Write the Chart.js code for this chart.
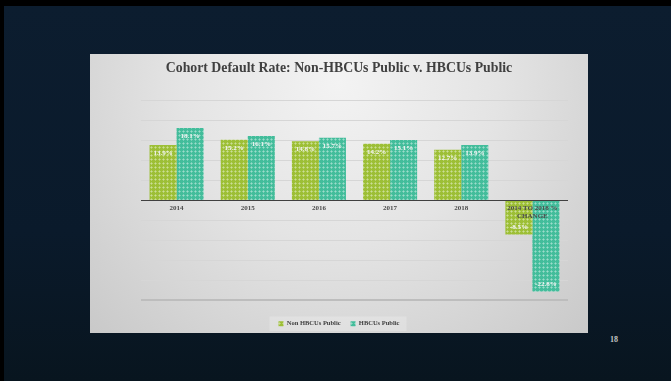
<!DOCTYPE html>
<html>
<head>
<meta charset="utf-8">
<script src="https://cdn.jsdelivr.net/npm/chart.js@4.4.1/dist/chart.umd.min.js"></script>
<style>
    html, body { margin: 0; padding: 0; }
    body { width: 671px; height: 381px; background: #000; position: relative; overflow: hidden; }
    #slide {
        position: absolute; left: 4px; top: 6px; width: 667px; height: 375px;
        background: linear-gradient(180deg, #0c1d2f 0%, #0a1a2b 60%, #08151f 100%);
    }
    #panel {
        position: absolute; left: 90px; top: 54px; width: 498px; height: 279px;
        background: radial-gradient(ellipse at 50% 10%, #f3f3f3 0%, #e4e4e4 45%, #c9c9c9 100%);
    }
    #cdrChart { position: absolute; left: 90px; top: 54px; }
    #pageNum {
        position: absolute; left: 610px; top: 335px;
        font: bold 8px "Liberation Serif", serif; color: #c4c4c4;
    }
</style>
</head>
<body>
<div id="slide"></div>
<div id="panel"></div>
<canvas id="cdrChart" width="498" height="283"></canvas>
<div id="pageNum">18</div>
<script>
const categories = ['2014', '2015', '2016', '2017', '2018', ['2014 TO 2018 %', 'CHANGE']];
const nonHbcuPublic = [13.9, 15.2, 14.8, 14.2, 12.7, -8.5];
const hbcuPublic = [18.1, 16.1, 15.7, 15.1, 13.9, -22.8];
const seriesNames = ['Non HBCUs Public', 'HBCUs Public'];
const yTicks = { min: -25, max: 25, step: 5 };

const serif = '"Liberation Serif", "Times New Roman", serif';

// little "plus" texture like the office fill pattern
function makePattern(base) {
    const c = document.createElement('canvas');
    c.width = 4; c.height = 4;
    const g = c.getContext('2d');
    g.fillStyle = base;
    g.fillRect(0, 0, 4, 4);
    g.fillStyle = 'rgba(255,255,255,0.28)';
    g.fillRect(1, 0, 1, 3);
    g.fillRect(0, 1, 3, 1);
    return g.createPattern(c, 'repeat');
}

const greenFill = makePattern('#9dbf36');
const tealFill = makePattern('#43bd9b');

// value labels inside the bar ends
const barLabels = {
    id: 'barLabels',
    afterDatasetsDraw(chart) {
        const ctx = chart.ctx;
        ctx.save();
        ctx.font = 'bold 7px ' + serif;
        ctx.fillStyle = '#f4f4f4';
        ctx.textAlign = 'center';
        ctx.textBaseline = 'middle';
        chart.data.datasets.forEach((ds, i) => {
            chart.getDatasetMeta(i).data.forEach((bar, j) => {
                const v = ds.data[j];
                const y = v >= 0 ? bar.y + 8 : bar.y - 7;
                ctx.fillText(v.toFixed(1) + '%', bar.x, y);
            });
        });
        ctx.restore();
    }
};

// light box behind the legend
const legendBox = {
    id: 'legendBox',
    beforeDraw(chart) {
        const boxes = chart.legend && chart.legend.legendHitBoxes;
        if (!boxes || !boxes.length) return;
        const first = boxes[0], last = boxes[boxes.length - 1];
        const ctx = chart.ctx;
        ctx.save();
        ctx.fillStyle = 'rgba(255,255,255,0.22)';
        ctx.fillRect(first.left - 9, first.top - 4, last.left + last.width - first.left + 16, first.height + 8);
        ctx.restore();
    }
};

new Chart(document.getElementById('cdrChart'), {
    type: 'bar',
    data: {
        labels: categories,
        datasets: [{
            label: seriesNames[0],
            data: nonHbcuPublic,
            backgroundColor: greenFill
        }, {
            label: seriesNames[1],
            data: hbcuPublic,
            backgroundColor: tealFill
        }]
    },
    options: {
        responsive: false,
        animation: false,
        layout: { padding: { left: 20, right: 20, top: 0, bottom: 0 } },
        datasets: { bar: { categoryPercentage: 0.76, barPercentage: 1.0 } },
        scales: {
            x: {
                position: { y: 0 },
                grid: { display: false, drawTicks: false },
                border: { display: false },
                ticks: {
                    z: 1,
                    padding: 4,
                    color: '#4a4a4a',
                    font: { family: serif, size: 7, weight: 'bold', lineHeight: 1.15 },
                    maxRotation: 0,
                    autoSkip: false
                }
            },
            y: {
                min: yTicks.min,
                max: yTicks.max,
                afterFit(s) { s.width = 31; },
                border: { display: false },
                grid: {
                    drawTicks: false,
                    color: c => c.tick.value === 0 ? '#404040' : (c.tick.value === yTicks.min ? '#bdbdbd' : '#d6d6d6'),
                    lineWidth: c => c.tick.value === yTicks.min ? 2 : 1
                },
                ticks: { display: false, stepSize: yTicks.step }
            }
        },
        plugins: {
            title: {
                display: true,
                text: 'Cohort Default Rate: Non-HBCUs Public v. HBCUs Public',
                color: '#404040',
                font: { family: serif, size: 13.8, weight: 'bold' },
                padding: { top: 6, bottom: 24 }
            },
            legend: {
                position: 'bottom',
                title: { display: true, text: '', font: { size: 1 }, padding: { top: 9, bottom: 0 } },
                labels: {
                    boxWidth: 5,
                    boxHeight: 5,
                    padding: 10,
                    color: '#404040',
                    font: { family: serif, size: 6.5, weight: 'bold' }
                }
            },
            tooltip: { enabled: false }
        }
    },
    plugins: [legendBox, barLabels]
});
</script>
</body>
</html>
